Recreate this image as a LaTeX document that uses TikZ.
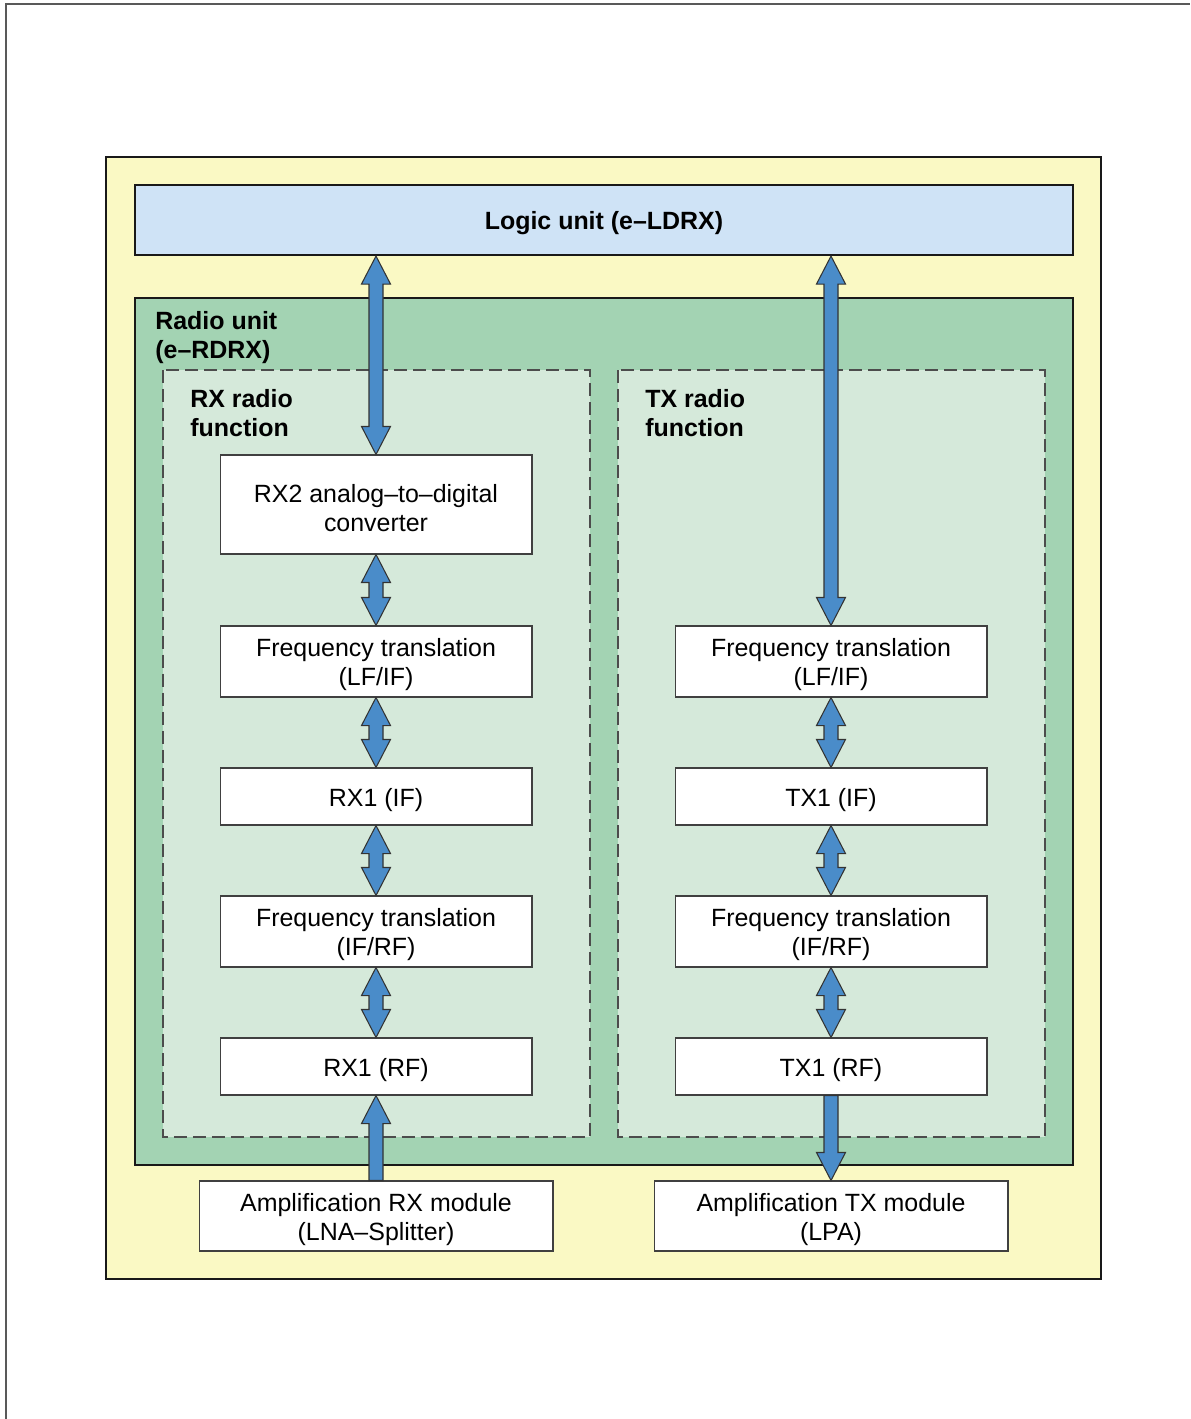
\documentclass[tikz,border=0pt]{standalone}
\usepackage{fontspec}
\setmainfont{Liberation Sans}
\usetikzlibrary{positioning, calc}

\definecolor{unityellow}{HTML}{FAF9C4}
\definecolor{logicblue}{HTML}{CFE3F6}
\definecolor{radiogreen}{HTML}{A3D3B3}
\definecolor{funcgreen}{HTML}{D5E9DA}
\definecolor{arrowblue}{HTML}{4A8CC9}

\tikzset{
	block/.style={draw=black!75, line width=0.6pt, fill=white, minimum width=6.24cm, align=center, inner sep=0pt, font=\fontsize{14.2}{16.5}\selectfont, execute at begin node={\rule{0pt}{13.8pt}}},
	twoline/.style={execute at begin node={\rule{0pt}{30.3pt}}},
	ampblock/.style={block, twoline, minimum width=7.08cm, minimum height=1.4cm},
	headlbl/.style={align=left, inner sep=0pt, anchor=north west, font=\fontsize{14.2}{16.5}\selectfont\bfseries},
	container/.style={draw=black!90, line width=1.2pt},
	funcbox/.style={draw=black!70, line width=0.6pt, fill=funcgreen, dash pattern=on 7.4pt off 3.4pt},
	blockarrow/.style={draw=black!80, fill=arrowblue, line width=0.6pt, line join=miter}
}

\newcommand{\dblarrow}[2]{%
	\path[blockarrow] (#1.south) -- ++(14.5,28) -- ++(-7.5,0) -- ($(#2.north)+(7,-28)$) -- ++(7.5,0) -- (#2.north) -- ++(-14.5,-28) -- ++(7.5,0) -- ($(#1.south)+(-7,28)$) -- ++(-7.5,0) -- cycle;}
\newcommand{\uparrowblk}[2]{%
	\path[blockarrow] ($(#1.north)+(-7,0)$) -- ($(#2.south)+(-7,28)$) -- ++(-7.5,0) -- (#2.south) -- ++(14.5,28) -- ++(-7.5,0) -- ($(#1.north)+(7,0)$) -- cycle;}
\newcommand{\downarrowblk}[2]{%
	\path[blockarrow] ($(#1.south)+(-7,0)$) -- ($(#2.north)+(-7,-28)$) -- ++(-7.5,0) -- (#2.north) -- ++(14.5,-28) -- ++(-7.5,0) -- ($(#1.south)+(7,0)$) -- cycle;}

\begin{document}
\begin{tikzpicture}[x=0.02cm, y=-0.02cm]
	\useasboundingbox (0,0) rectangle (1190,1419);
	\draw[black!65, line width=1pt] (6,1419) -- (6,4) -- (1190,4);

	\draw[container, fill=unityellow] (106,157) rectangle (1101,1279);
	\node[container, fill=logicblue, minimum width=18.76cm, minimum height=1.4cm, inner sep=0pt, font=\fontsize{14.2}{16.5}\selectfont\bfseries, execute at begin node={\rule{0pt}{13.8pt}}] (logic) at (604,220) {Logic unit (e–LDRX)};
	\draw[container, fill=radiogreen] (135,298) rectangle (1073,1165);
	\node[headlbl] (radiolbl) at (155,311) {Radio unit\\ (e–RDRX)};

	\draw[funcbox] (163,370) rectangle (590,1137);
	\draw[funcbox] (618,370) rectangle (1045,1137);
	\node[headlbl] (rxlbl) at (190,389) {RX radio\\ function};
	\node[headlbl] (txlbl) at (645,389) {TX radio\\ function};

	\node[block, twoline, minimum height=1.98cm] (adc) at (376,504.5) {RX2 analog–to–digital\\converter};
	\node[block, twoline, minimum height=1.42cm] (rxlfif) at (376,661.5) {Frequency translation\\(LF/IF)};
	\node[block, minimum height=1.14cm] (rxif) at (376,796.5) {RX1 (IF)};
	\node[block, twoline, minimum height=1.42cm] (rxifrf) at (376,931.5) {Frequency translation\\(IF/RF)};
	\node[block, minimum height=1.14cm] (rxrf) at (376,1066.5) {RX1 (RF)};

	\node[block, twoline, minimum height=1.42cm] (txlfif) at (831,661.5) {Frequency translation\\(LF/IF)};
	\node[block, minimum height=1.14cm] (txif) at (831,796.5) {TX1 (IF)};
	\node[block, twoline, minimum height=1.42cm] (txifrf) at (831,931.5) {Frequency translation\\(IF/RF)};
	\node[block, minimum height=1.14cm] (txrf) at (831,1066.5) {TX1 (RF)};

	\node[ampblock] (rxamp) at (376,1216) {Amplification RX module\\(LNA–Splitter)};
	\node[ampblock] (txamp) at (831,1216) {Amplification TX module\\(LPA)};

	\coordinate (logicrx) at (logic.south -| adc.north);
	\coordinate (logictx) at (logic.south -| txlfif.north);
	\dblarrow{logicrx}{adc}
	\dblarrow{adc}{rxlfif}
	\dblarrow{rxlfif}{rxif}
	\dblarrow{rxif}{rxifrf}
	\dblarrow{rxifrf}{rxrf}
	\uparrowblk{rxamp}{rxrf}

	\dblarrow{logictx}{txlfif}
	\dblarrow{txlfif}{txif}
	\dblarrow{txif}{txifrf}
	\dblarrow{txifrf}{txrf}
	\downarrowblk{txrf}{txamp}
\end{tikzpicture}
\end{document}
